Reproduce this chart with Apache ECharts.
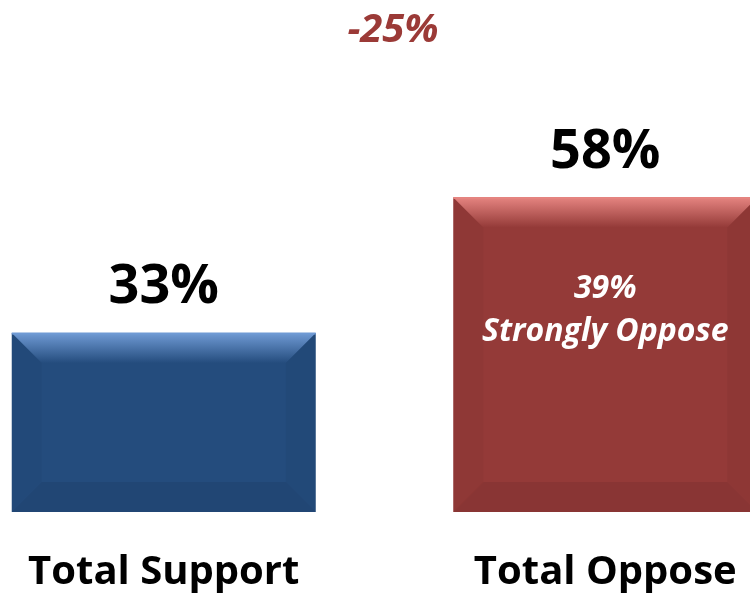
<!DOCTYPE html>
<html>
<head>
<meta charset="utf-8">
<script src="https://cdn.jsdelivr.net/npm/echarts@6/dist/echarts.min.js"></script>
<style>
  html, body { margin: 0; padding: 0; background: #fff; }
  #chart { width: 750px; height: 597px; }
</style>
</head>
<body>
<div id="chart"></div>
<script>
const categories = ['Total Support', 'Total Oppose'];
const totals = [33, 58];
const stronglyValues = [null, 39];
const stronglyText = 'Strongly Oppose';
const faceColors = ['#244c7d', '#943a38'];
const lightColors = ['#6f9ad4', '#e58480'];

const chartDom = document.getElementById('chart');
const myChart = echarts.init(chartDom);

const barWidth = 304;
const bevel = 30;
const font = '"Open Sans", sans-serif';

const option = {
  animation: false,
  title: {
    text: (totals[0] - totals[1]) + '%',
    left: 388,
    top: 6,
    textAlign: 'center',
    textStyle: {
      color: '#9b3a37',
      fontSize: 40,
      fontWeight: 'bold',
      fontStyle: 'italic',
      fontFamily: font
    }
  },
  grid: { left: -57, right: -76, top: 24, bottom: 85, outerBoundsMode: 'none', containLabel: false },
  xAxis: {
    type: 'category',
    data: categories,
    axisLine: { show: false },
    axisTick: { show: false },
    axisLabel: {
      color: '#000',
      fontSize: 40,
      fontWeight: 'bold',
      fontFamily: font,
      margin: 41
    }
  },
  yAxis: {
    type: 'value',
    min: 0,
    max: 90,
    show: false,
    splitLine: { show: false }
  },
  series: [
    {
      type: 'bar',
      barWidth: barWidth,
      data: totals.map((v, i) => ({
        value: v,
        itemStyle: { color: faceColors[i] }
      })),
      label: {
        show: true,
        position: 'top',
        distance: 18,
        formatter: '{c}%',
        color: '#000',
        fontSize: 54,
        fontWeight: 'bold',
        fontFamily: font
      }
    },
    {
      type: 'custom',
      clip: false,
      silent: true,
      z: 3,
      data: totals.map((v, i) => [i, v, stronglyValues[i]]),
      renderItem: function (params, api) {
        const i = api.value(0);
        const top = api.coord([i, api.value(1)]);
        const base = api.coord([i, 0]);
        const x0 = top[0] - barWidth / 2;
        const x1 = top[0] + barWidth / 2;
        const y0 = top[1];
        const y1 = base[1];
        const b = bevel;
        const children = [
          {
            type: 'polygon',
            shape: { points: [[x0, y0], [x1, y0], [x1 - b, y0 + b], [x0 + b, y0 + b]] },
            style: {
              fill: new echarts.graphic.LinearGradient(0, 0, 0, 1, [
                { offset: 0, color: lightColors[i] },
                { offset: 1, color: faceColors[i] }
              ])
            }
          },
          {
            type: 'polygon',
            shape: { points: [[x0, y0], [x0 + b, y0 + b], [x0 + b, y1 - b], [x0, y1]] },
            style: { fill: 'rgba(0,0,0,0.03)' }
          },
          {
            type: 'polygon',
            shape: { points: [[x1, y0], [x1 - b, y0 + b], [x1 - b, y1 - b], [x1, y1]] },
            style: { fill: 'rgba(0,0,0,0.04)' }
          },
          {
            type: 'polygon',
            shape: { points: [[x0, y1], [x0 + b, y1 - b], [x1 - b, y1 - b], [x1, y1]] },
            style: { fill: 'rgba(0,0,0,0.07)' }
          },
          {
            type: 'line',
            shape: { x1: x0, y1: y0 + 0.5, x2: x1, y2: y0 + 0.5 },
            style: { stroke: lightColors[i], lineWidth: 2 }
          }
        ];
        const s = api.value(2);
        if (s != null && !isNaN(s)) {
          children.push({
            type: 'text',
            style: {
              x: top[0],
              y: y0 + 70,
              text: s + '%\n' + stronglyText,
              fill: '#fff',
              align: 'center',
              verticalAlign: 'top',
              fontSize: 32,
              lineHeight: 43,
              fontWeight: 'bold',
              fontStyle: 'italic',
              fontFamily: font
            }
          });
        }
        return { type: 'group', children: children };
      }
    }
  ]
};

myChart.setOption(option);
</script>
</body>
</html>
